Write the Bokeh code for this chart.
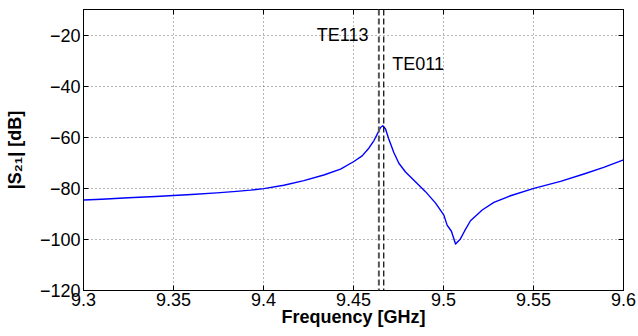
from bokeh.plotting import figure
from bokeh.models import Label, LinearAxis, FixedTicker, Span, Range1d
from bokeh.embed import file_html
from bokeh.resources import INLINE

# Measured transmission |S21| of the cavity around the TE113 / TE011 resonances
freq_ghz = [
    9.300, 9.310, 9.325, 9.340, 9.350, 9.360, 9.374, 9.385, 9.3928, 9.4002,
    9.4113, 9.4224, 9.4335, 9.4428, 9.4502, 9.4548, 9.4585, 9.4613, 9.4632, 9.4650,
    9.4663, 9.4678, 9.4696, 9.4724, 9.4752, 9.4789, 9.4844, 9.4900, 9.4956, 9.5002,
    9.5020, 9.5044, 9.5067, 9.5094, 9.5118, 9.5150, 9.5215, 9.5280, 9.5372, 9.5502,
    9.5650, 9.5780, 9.5890, 9.6000,
]
s21_db = [
    -84.6, -84.3, -83.7, -83.2, -82.8, -82.4, -81.8, -81.2, -80.7, -80.1,
    -78.8, -77.0, -74.8, -72.5, -69.5, -67.3, -64.3, -61.4, -58.8, -56.2,
    -55.5, -56.8, -60.7, -66.0, -70.2, -73.6, -77.4, -81.3, -85.8, -90.5,
    -94.4, -96.8, -101.8, -99.8, -96.6, -92.7, -88.5, -85.5, -82.9, -80.0,
    -77.3, -74.4, -71.8, -68.9,
]

# Simulated mode frequencies
mode_names = ["TE113", "TE011"]
mode_freq_ghz = [9.4641, 9.4668]

x_ticks = [9.3, 9.35, 9.4, 9.45, 9.5, 9.55, 9.6]
x_tick_labels = ["9.3", "9.35", "9.4", "9.45", "9.5", "9.55", "9.6"]
y_ticks = [-120, -100, -80, -60, -40, -20]
y_tick_labels = ["\u2212120", "\u2212100", "\u221280", "\u221260", "\u221240", "\u221220"]

FONT = "Liberation Sans"

p = figure(
    width=638, height=336,
    output_backend="svg", toolbar_location=None,
    x_range=Range1d(9.3, 9.6), y_range=Range1d(-120, -10),
    min_border_left=83, min_border_right=15, min_border_top=9, min_border_bottom=46,
)
p.background_fill_color = "white"
p.border_fill_color = "white"
p.outline_line_color = "black"
p.outline_line_width = 1
p.outline_line_alpha = 1.0

# Bottom / left axes: inward ticks
for ax, ticks, labels in ((p.xaxis[0], x_ticks, x_tick_labels), (p.yaxis[0], y_ticks, y_tick_labels)):
    ax.ticker = FixedTicker(ticks=ticks)
    ax.major_label_overrides = {t: s for t, s in zip(ticks, labels)}
    ax.major_tick_in = 5
    ax.major_tick_out = 0
    ax.minor_tick_in = 0
    ax.minor_tick_out = 0
    ax.axis_line_color = "black"
    ax.major_tick_line_color = "black"
    ax.major_label_text_font = FONT
    ax.major_label_text_font_size = "18px"
    ax.major_label_text_color = "black"
    ax.axis_label_text_font = FONT
    ax.axis_label_text_font_size = "18px"
    ax.axis_label_text_font_style = "bold"
    ax.axis_label_text_color = "black"
p.xaxis[0].major_label_standoff = 2
p.yaxis[0].major_label_standoff = 3
p.xaxis[0].axis_label = "Frequency [GHz]"
p.xaxis[0].axis_label_standoff = -2
p.yaxis[0].axis_label = "|S\u2082\u2081| [dB]"
p.yaxis[0].axis_label_standoff = 12

# Box ticks on the right and top edges, without labels
for place, ticks in (("right", y_ticks), ("above", x_ticks)):
    box_ax = LinearAxis(
        ticker=FixedTicker(ticks=ticks), major_tick_in=5, major_tick_out=0,
        minor_tick_in=0, minor_tick_out=0, major_label_text_color=None,
        major_label_standoff=0, axis_line_color="black",
    )
    p.add_layout(box_ax, place)

# Dotted grid
for g in (p.xgrid[0], p.ygrid[0]):
    g.grid_line_color = "#555555"
    g.grid_line_dash = "1 3"
    g.grid_line_width = 1
    g.grid_line_alpha = 0.85

# Measured curve
p.line(freq_ghz, s21_db, line_color="#0000ff", line_width=1.4, line_join="round")

# Mode markers
p.add_layout(Span(location=mode_freq_ghz[0], dimension="height",
                  line_color="#555555", line_width=2, line_dash="6 3"))
p.add_layout(Span(location=mode_freq_ghz[1], dimension="height",
                  line_color="black", line_width=1.2, line_dash="6 3"))

p.add_layout(Label(x=9.4583, y=-20.0, text=mode_names[0], text_align="right",
                   text_baseline="middle", text_font=FONT, text_font_size="18px",
                   text_color="black"))
p.add_layout(Label(x=9.4715, y=-31.5, text=mode_names[1], text_align="left",
                   text_baseline="middle", text_font=FONT, text_font_size="18px",
                   text_color="black"))

open("out.html", "w").write(file_html(p, INLINE))
